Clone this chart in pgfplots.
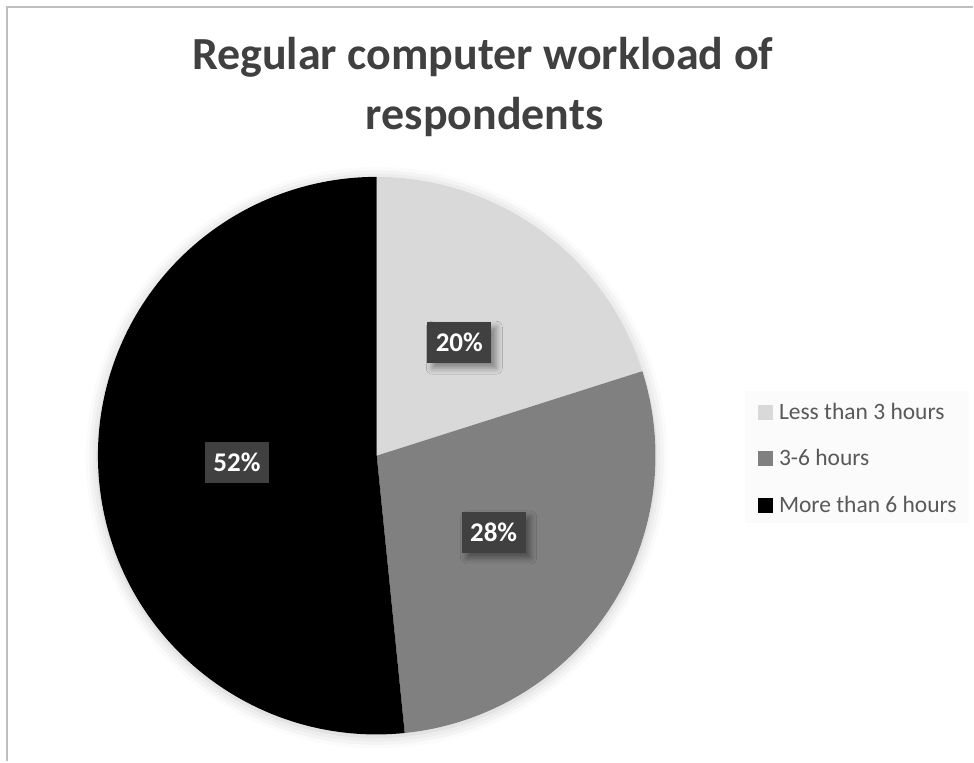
\documentclass[border=0pt]{standalone}
\usepackage{pgfplots}
\pgfplotsset{compat=1.18}
\usepackage{pgfplotstable}
\usepackage{fontspec}
\setmainfont{Carlito}
\usetikzlibrary{shadows.blur}

\definecolor{sliceA}{RGB}{217,217,217}
\definecolor{sliceB}{RGB}{128,128,128}
\definecolor{sliceC}{RGB}{0,0,0}
\definecolor{titlegray}{RGB}{64,64,64}
\definecolor{legendgray}{RGB}{89,89,89}
\definecolor{legendbg}{RGB}{251,251,251}
\definecolor{boxgray}{RGB}{64,64,64}
\definecolor{framegray}{RGB}{191,191,191}

% share of respondents, clockwise from 12 o'clock
\pgfplotstableread[col sep=comma]{
label,value,pct
Less than 3 hours,20.1,20\%
3-6 hours,28.3,28\%
More than 6 hours,51.6,52\%
}\piedata

\begin{document}
\begin{tikzpicture}
\begin{axis}[
  x=1pt, y=1pt,
  xmin=0, xmax=974, ymin=-762, ymax=0,
  scale only axis,
  hide axis,
  clip=false,
  legend style={
    at={(axis cs:758,-401)}, anchor=north west,
    draw=none, fill=none,
    font=\fontsize{23.5}{28}\selectfont\color{legendgray},
    row sep=25pt,
    inner sep=0pt,
  },
  legend cell align=left,
  legend image code/.code={\fill[#1] (0pt,-7pt) rectangle (14pt,7pt); \path (19pt,0pt);},
]
\path (axis cs:0,0) rectangle (axis cs:974,-762);
\addlegendimage{sliceA}\addlegendentry{Less than 3 hours}
\addlegendimage{sliceB}\addlegendentry{3-6 hours}
\addlegendimage{sliceC}\addlegendentry{More than 6 hours}

\pgfplotsextra{
  % frame of the chart area and legend backdrop
  \draw[framegray, line width=1.5pt] (axis cs:7,-762) -- (axis cs:7,-7) -- (axis cs:974,-7);
  \fill[legendbg] (axis cs:746,-391) rectangle (axis cs:970,-523);
  % title
  \node[font=\fontsize{46}{53}\selectfont\bfseries, text=titlegray, anchor=base]
    at (axis cs:483,-70) {Regular computer workload of};
  \node[font=\fontsize{46}{53}\selectfont\bfseries, text=titlegray, anchor=base]
    at (axis cs:485,-130) {respondents};
  % soft shadow of the pie
  \fill[white, blur shadow={shadow xshift=0pt, shadow yshift=-2pt, shadow blur radius=12pt, shadow opacity=22}]
    (axis cs:377,-456) circle[radius=279pt];
  \gdef\acc{90}
  \foreach \i/\col in {0/sliceA,1/sliceB,2/sliceC} {
    \pgfplotstablegetelem{\i}{value}\of\piedata
    \pgfmathsetmacro\sweep{3.6*\pgfplotsretval}
    \pgfmathsetmacro\endang{\acc-\sweep}
    \fill[\col] (axis cs:377,-456) -- ++(\acc:279pt)
      arc[start angle=\acc, end angle=\endang, radius=279pt] -- cycle;
    \xdef\acc{\endang}
  }
  \gdef\acc{90}
  \foreach \i in {0,1,2} {
    \pgfplotstablegetelem{\i}{value}\of\piedata
    \pgfmathsetmacro\sweep{3.6*\pgfplotsretval}
    \pgfmathsetmacro\midang{\acc-\sweep/2}
    \pgfmathsetmacro\endang{\acc-\sweep}
    \pgfplotstablegetelem{\i}{pct}\of\piedata
    \node[fill=boxgray, text=white, font=\fontsize{27}{32}\selectfont\bfseries,
      minimum width=64pt, minimum height=41pt, inner sep=0pt,
      blur shadow={shadow xshift=5pt, shadow yshift=-5pt, shadow blur radius=6pt, shadow opacity=40}]
      at ($(axis cs:377,-456)+(\midang:140pt)$) {\pgfplotsretval};
    \xdef\acc{\endang}
  }
}
\end{axis}
\end{tikzpicture}
\end{document}
